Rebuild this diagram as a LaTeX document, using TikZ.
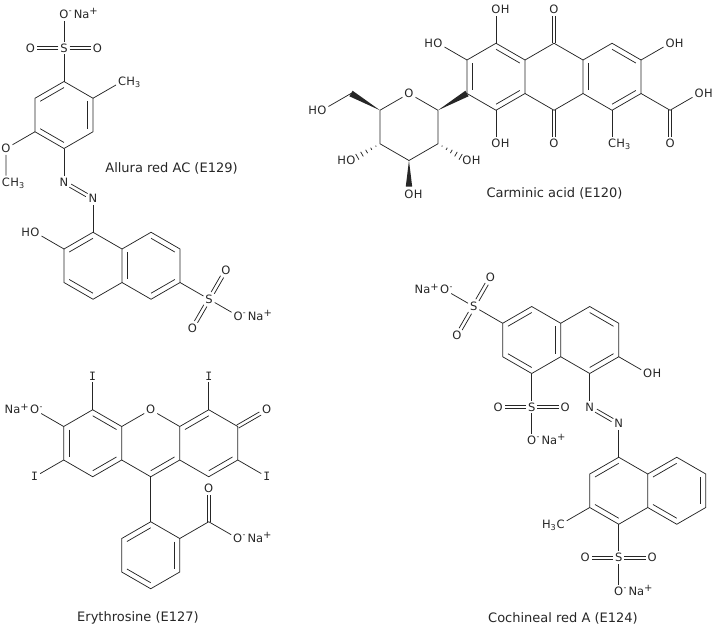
\documentclass[tikz,border=0pt]{standalone}
\usepackage{fontspec}
\setmainfont{DejaVu Sans}
\newfontfamily\monofam{DejaVu Sans Mono}
\usetikzlibrary{calc}
\newcommand\chplus{\raisebox{0.62ex}{\fontsize{10}{10}\selectfont +}}
\newcommand\chminus{\raisebox{0.75ex}{\fontsize{8}{8}\selectfont -}}
\newcommand\ringdbl[3]{\draw[bond] ($(#1)!0.18!(#3)$) -- ($(#2)!0.18!(#3)$);}
\newcommand\dblbond[2]{%
  \path (#1) -- (#2) coordinate[pos=0] (ds) coordinate[pos=1] (de);
  \draw[bond] ($(ds)!1.8pt!90:(de)$) -- ($(de)!1.8pt!-90:(ds)$);
  \draw[bond] ($(ds)!1.8pt!-90:(de)$) -- ($(de)!1.8pt!90:(ds)$);}
\newcommand\wedgebond[2]{\fill[black!85] (#1) -- ($(#2)!3.2pt!90:(#1)$) -- ($(#2)!3.2pt!-90:(#1)$) -- cycle;}
\newcommand\hashbond[2]{%
  \foreach \t in {0.14,0.30,0.46,0.62,0.78}{%
    \pgfmathsetlengthmacro\hw{4.2pt*\t}%
    \coordinate (hp) at ($(#1)!\t!(#2)$);
    \draw[hashline] ($(hp)!\hw!90:(#2)$) -- ($(hp)!\hw!-90:(#2)$);
  }}
\begin{document}
\begin{tikzpicture}[x=1pt,y=-1pt,
  bond/.style={line width=0.75pt, draw=black!85},
  hashline/.style={line width=0.75pt, draw=black!85},
  atom/.style={font=\fontsize{11.5}{13}\selectfont, inner sep=1.8pt, text=black!85},
  atomt/.style={font=\fontsize{11.5}{13}\selectfont, inner sep=0pt, text=black!85},
  captext/.style={font=\fontsize{13}{15}\selectfont, inner sep=0pt, text=black!85}]
\useasboundingbox (0,0) rectangle (715,632);

% ================= Allura red AC =================
\coordinate (a1) at (64,115);
\coordinate (a1t) at (64,81.5);
\coordinate (a1ur) at (93.01,98.25);
\coordinate (a1lr) at (93.01,131.75);
\coordinate (a1b) at (64,148.5);
\coordinate (a1ll) at (34.99,131.75);
\coordinate (a1ul) at (34.99,98.25);
\node[atom] (aS1) at (64,48) {S};
\node[atom] (aO1) at (30.5,48) {O};
\node[atom] (aO2) at (97.5,48) {O};
\node[atom] (aO3) at (64,14.5) {O};
\node[atomt, anchor=base west] (aNa1) at ([xshift=-1.8pt]aO3.base east) {\chminus\kern2pt Na\chplus};
\node[atom] (aC1) at (122.02,81.5) {C};
\node[atomt, anchor=base west] (aH1) at ([xshift=-1.8pt]aC1.base east) {H\textsubscript{3}};
\node[atom] (aO4) at (5.98,148.5) {O};
\node[atom] (aC2) at (5.98,182) {C};
\node[atomt, anchor=base west] (aH2) at ([xshift=-1.8pt]aC2.base east) {H\textsubscript{3}};
\node[atom] (aN1) at (64,182) {N};
\node[atom] (aN2) at (93.01,198.75) {N};
\coordinate (n1) at (93.01,265.75);
\coordinate (n1t) at (93.01,232.25);
\coordinate (n1ur) at (122.02,249);
\coordinate (n1lr) at (122.02,282.5);
\coordinate (n1b) at (93.01,299.25);
\coordinate (n1ll) at (64,282.5);
\coordinate (n1ul) at (64,249);
\coordinate (n2) at (151.03,265.75);
\coordinate (n2t) at (151.03,232.25);
\coordinate (n2ur) at (180.04,249);
\coordinate (n2lr) at (180.04,282.5);
\coordinate (n2b) at (151.03,299.25);
\node[atom] (aO5) at (34.99,232.25) {O};
\node[atomt, anchor=base east] (aH3) at ([xshift=1.8pt]aO5.base west) {H};
\node[atom] (aS2) at (209.05,299.25) {S};
\node[atom] (aO6) at (225.8,270.24) {O};
\node[atom] (aO7) at (192.3,328.26) {O};
\node[atom] (aO8) at (238.06,316) {O};
\node[atomt, anchor=base west] (aNa2) at ([xshift=-1.8pt]aO8.base east) {\chminus\kern2pt Na\chplus};
\node[captext] (capA) at (171.5,168) {Allura red AC (E129)};

% ================= Carminic acid =================
\coordinate (r1) at (496,76.75);
\coordinate (r1t) at (496,43.25);
\coordinate (r1ur) at (525.01,60);
\coordinate (r1lr) at (525.01,93.5);
\coordinate (r1b) at (496,110.25);
\coordinate (r1ll) at (466.99,93.5);
\coordinate (r1ul) at (466.99,60);
\coordinate (r2t) at (554.02,43.25);
\coordinate (r2b) at (554.02,110.25);
\coordinate (r3) at (612.04,76.75);
\coordinate (r3t) at (612.04,43.25);
\coordinate (r3ur) at (641.05,60);
\coordinate (r3lr) at (641.05,93.5);
\coordinate (r3b) at (612.04,110.25);
\coordinate (r3ll) at (583.03,93.5);
\coordinate (r3ul) at (583.03,60);
\node[atom] (bO1) at (496,9.75) {O};
\node[atomt, anchor=base west] (bH1) at ([xshift=-1.8pt]bO1.base east) {H};
\node[atom] (bO2) at (496,143.75) {O};
\node[atomt, anchor=base west] (bH2) at ([xshift=-1.8pt]bO2.base east) {H};
\node[atom] (bO3) at (554.02,9.75) {O};
\node[atom] (bO4) at (554.02,143.75) {O};
\node[atom] (bO5) at (437.98,43.25) {O};
\node[atomt, anchor=base east] (bH5) at ([xshift=1.8pt]bO5.base west) {H};
\node[atom] (bO6) at (670.06,43.25) {O};
\node[atomt, anchor=base west] (bH6) at ([xshift=-1.8pt]bO6.base east) {H};
\coordinate (bC1) at (670.06,110.25);
\node[atom] (bO7) at (699.07,93.5) {O};
\node[atomt, anchor=base west] (bH7) at ([xshift=-1.8pt]bO7.base east) {H};
\node[atom] (bO8) at (670.06,143.75) {O};
\node[atom] (bC2) at (612.04,143.75) {C};
\node[atomt, anchor=base west] (bH8) at ([xshift=-1.8pt]bC2.base east) {H\textsubscript{3}};
% glucose
\node[atom] (gO) at (408.97,93.5) {O};
\coordinate (g1) at (437.98,110.25);
\coordinate (g2) at (437.98,143.75);
\coordinate (g3) at (408.97,160.5);
\coordinate (g4) at (379.96,143.75);
\coordinate (g5) at (379.96,110.25);
\coordinate (g6) at (350.95,93.5);
\node[atom] (gO6) at (321.94,110.25) {O};
\node[atomt, anchor=base east] (gH6) at ([xshift=1.8pt]gO6.base west) {H};
\node[atom] (gO4) at (350.95,160.5) {O};
\node[atomt, anchor=base east] (gH4) at ([xshift=1.8pt]gO4.base west) {H};
\node[atom] (gO2) at (467,160.5) {O};
\node[atomt, anchor=base west] (gH2) at ([xshift=-1.8pt]gO2.base east) {H};
\node[atom] (gO3) at (408.97,194) {O};
\node[atomt, anchor=base west] (gH3) at ([xshift=-1.8pt]gO3.base east) {H};
\coordinate (g3w) at (408.97,186.5);
\node[captext] (capB) at (554.5,193) {Carminic acid (E120)};

% ================= Erythrosine =================
\coordinate (e1) at (92.7,443.25);
\coordinate (e1t) at (92.7,409.75);
\coordinate (e1ur) at (121.71,426.5);
\coordinate (e1lr) at (121.71,460);
\coordinate (e1b) at (92.7,476.75);
\coordinate (e1ll) at (63.69,460);
\coordinate (e1ul) at (63.69,426.5);
\coordinate (e2) at (150.72,443.25);
\node[atom] (eO) at (150.72,409.75) {O};
\coordinate (e2b) at (150.72,476.75);
\coordinate (e3) at (208.74,443.25);
\coordinate (e3t) at (208.74,409.75);
\coordinate (e3ur) at (237.75,426.5);
\coordinate (e3lr) at (237.75,460);
\coordinate (e3b) at (208.74,476.75);
\coordinate (e3ll) at (179.73,460);
\coordinate (e3ul) at (179.73,426.5);
\node[atom] (eI1) at (92.7,376.25) {\monofam I};
\node[atom] (eO1) at (34.68,409.75) {O};
\node[atomt, anchor=base west] (eM1) at ([xshift=-1.8pt]eO1.base east) {\chminus};
\node[atomt, anchor=base east] (eNa1) at ([xshift=0.8pt]eO1.base west) {Na\chplus};
\node[atom] (eI2) at (34.68,476.75) {\monofam I};
\node[atom] (eI3) at (208.74,376.25) {\monofam I};
\node[atom] (eO2) at (266.76,409.75) {O};
\node[atom] (eI4) at (266.76,476.75) {\monofam I};
\coordinate (p) at (150.72,555.25);
\coordinate (pt) at (150.72,521.75);
\coordinate (pur) at (179.73,538.5);
\coordinate (plr) at (179.73,572);
\coordinate (pb) at (150.72,588.75);
\coordinate (pll) at (121.71,572);
\coordinate (pul) at (121.71,538.5);
\coordinate (eC) at (208.74,521.75);
\node[atom] (eO3) at (208.74,488.25) {O};
\node[atom] (eO4) at (237.75,538.5) {O};
\node[atomt, anchor=base west] (eNa2) at ([xshift=-1.8pt]eO4.base east) {\chminus\kern2pt Na\chplus};
\node[captext] (capC) at (138,618) {Erythrosine (E127)};

% ================= Cochineal red A =================
\coordinate (c1) at (531.7,340);
\coordinate (c1t) at (531.7,306.5);
\coordinate (c1ur) at (560.71,323.25);
\coordinate (c1lr) at (560.71,356.75);
\coordinate (c1b) at (531.7,373.5);
\coordinate (c1ll) at (502.69,356.75);
\coordinate (c1ul) at (502.69,323.25);
\coordinate (c2) at (589.72,340);
\coordinate (c2t) at (589.72,306.5);
\coordinate (c2ur) at (618.73,323.25);
\coordinate (c2lr) at (618.73,356.75);
\coordinate (c2b) at (589.72,373.5);
\node[atom] (dS1) at (473.68,306.5) {S};
\node[atom] (dO1) at (490.43,277.49) {O};
\node[atom] (dO2) at (456.93,335.51) {O};
\node[atom] (dO3) at (444.67,289.75) {O};
\node[atomt, anchor=base west] (dM3) at ([xshift=-1.8pt]dO3.base east) {\chminus};
\node[atomt, anchor=base east] (dNa3) at ([xshift=0.8pt]dO3.base west) {Na\chplus};
\node[atom] (dS2) at (531.7,407) {S};
\node[atom] (dO4) at (498.2,407) {O};
\node[atom] (dO5) at (565.2,407) {O};
\node[atom] (dO6) at (531.7,440.5) {O};
\node[atomt, anchor=base west] (dNa6) at ([xshift=-1.8pt]dO6.base east) {\chminus\kern2pt Na\chplus};
\node[atom] (dO7) at (647.74,373.5) {O};
\node[atomt, anchor=base west] (dH7) at ([xshift=-1.8pt]dO7.base east) {H};
\node[atom] (dN1) at (589.72,407) {N};
\node[atom] (dN2) at (618.73,423.75) {N};
\coordinate (d1) at (618.73,490.75);
\coordinate (d1t) at (618.73,457.25);
\coordinate (d1ur) at (647.74,474);
\coordinate (d1lr) at (647.74,507.5);
\coordinate (d1b) at (618.73,524.25);
\coordinate (d1ll) at (589.72,507.5);
\coordinate (d1ul) at (589.72,474);
\coordinate (d2) at (676.75,490.75);
\coordinate (d2t) at (676.75,457.25);
\coordinate (d2ur) at (705.76,474);
\coordinate (d2lr) at (705.76,507.5);
\coordinate (d2b) at (676.75,524.25);
\node[atom] (dC) at (560.71,524.25) {C};
\node[atomt, anchor=base east] (dH3) at ([xshift=1.8pt]dC.base west) {H\textsubscript{3}};
\node[atom] (dS3) at (618.73,557.75) {S};
\node[atom] (dO8) at (585.23,557.75) {O};
\node[atom] (dO9) at (652.23,557.75) {O};
\node[atom] (dO10) at (618.73,591.25) {O};
\node[atomt, anchor=base west] (dNa10) at ([xshift=-1.8pt]dO10.base east) {\chminus\kern2pt Na\chplus};
\node[captext] (capD) at (563,618) {Cochineal red A (E124)};

% ---------- exocyclic double bonds ----------
\dblbond{aS1}{aO1}
\dblbond{aS1}{aO2}
\dblbond{aN1}{aN2}
\dblbond{aS2}{aO6}
\dblbond{aS2}{aO7}
\dblbond{r2t}{bO3}
\dblbond{r2b}{bO4}
\dblbond{bC1}{bO8}
\dblbond{e3ur}{eO2}
\dblbond{eC}{eO3}
\dblbond{dS1}{dO1}
\dblbond{dS1}{dO2}
\dblbond{dS2}{dO4}
\dblbond{dS2}{dO5}
\dblbond{dN1}{dN2}
\dblbond{dS3}{dO8}
\dblbond{dS3}{dO9}

% ---------- Allura bonds ----------
\draw[bond] (aS1) -- (aO3);
\draw[bond] (aS1) -- (a1t);
\draw[bond] (a1t) -- (a1ur) -- (a1lr) -- (a1b) -- (a1ll) -- (a1ul) -- cycle;
\ringdbl{a1t}{a1ul}{a1}
\ringdbl{a1ur}{a1lr}{a1}
\ringdbl{a1b}{a1ll}{a1}
\draw[bond] (a1ur) -- (aC1);
\draw[bond] (a1ll) -- (aO4) -- (aC2);
\draw[bond] (a1b) -- (aN1);
\draw[bond] (aN2) -- (n1t);
\draw[bond] (n1t) -- (n1ur) -- (n1lr) -- (n1b) -- (n1ll) -- (n1ul) -- cycle;
\draw[bond] (n1ur) -- (n2t) -- (n2ur) -- (n2lr) -- (n2b) -- (n1lr);
\ringdbl{n1t}{n1ul}{n1}
\ringdbl{n1ll}{n1b}{n1}
\ringdbl{n1ur}{n1lr}{n2}
\ringdbl{n2t}{n2ur}{n2}
\ringdbl{n2lr}{n2b}{n2}
\draw[bond] (n1ul) -- (aO5);
\draw[bond] (n2lr) -- (aS2);
\draw[bond] (aS2) -- (aO8);

% ---------- Carminic bonds ----------
\draw[bond] (r1t) -- (r1ur) -- (r1lr) -- (r1b) -- (r1ll) -- (r1ul) -- cycle;
\draw[bond] (r1ur) -- (r2t) -- (r3ul);
\draw[bond] (r1lr) -- (r2b) -- (r3ll);
\draw[bond] (r3t) -- (r3ur) -- (r3lr) -- (r3b) -- (r3ll) -- (r3ul) -- cycle;
\ringdbl{r1t}{r1ur}{r1}
\ringdbl{r1lr}{r1b}{r1}
\ringdbl{r1ul}{r1ll}{r1}
\ringdbl{r3t}{r3ur}{r3}
\ringdbl{r3lr}{r3b}{r3}
\ringdbl{r3ul}{r3ll}{r3}
\draw[bond] (r1t) -- (bO1);
\draw[bond] (r1b) -- (bO2);
\draw[bond] (r1ul) -- (bO5);
\draw[bond] (r3ur) -- (bO6);
\draw[bond] (r3lr) -- (bC1) -- (bO7);
\draw[bond] (r3b) -- (bC2);
\draw[bond] (g1) -- (gO) -- (g5);
\draw[bond] (g1) -- (g2) -- (g3) -- (g4) -- (g5);
\wedgebond{g1}{r1ll}
\wedgebond{g5}{g6}
\wedgebond{g3}{g3w}
\draw[bond] (g6) -- (gO6);
\hashbond{g4}{gO4.center}
\hashbond{g2}{gO2.center}

% ---------- Erythrosine bonds ----------
\draw[bond] (e1t) -- (e1ur) -- (e1lr) -- (e1b) -- (e1ll) -- (e1ul) -- cycle;
\draw[bond] (e1ur) -- (eO) -- (e3ul);
\draw[bond] (e1lr) -- (e2b) -- (e3ll);
\draw[bond] (e3t) -- (e3ur) -- (e3lr) -- (e3b) -- (e3ll) -- (e3ul) -- cycle;
\ringdbl{e1t}{e1ur}{e1}
\ringdbl{e1ul}{e1ll}{e1}
\ringdbl{e1lr}{e1b}{e1}
\ringdbl{e2b}{e3ll}{e2}
\ringdbl{e3t}{e3ul}{e3}
\ringdbl{e3lr}{e3b}{e3}
\draw[bond] (e1t) -- (eI1);
\draw[bond] (e1ul) -- (eO1);
\draw[bond] (e1ll) -- (eI2);
\draw[bond] (e3t) -- (eI3);
\draw[bond] (e3lr) -- (eI4);
\draw[bond] (e2b) -- (pt);
\draw[bond] (pt) -- (pur) -- (plr) -- (pb) -- (pll) -- (pul) -- cycle;
\ringdbl{pt}{pul}{p}
\ringdbl{pur}{plr}{p}
\ringdbl{pll}{pb}{p}
\draw[bond] (pur) -- (eC) -- (eO4);

% ---------- Cochineal bonds ----------
\draw[bond] (c1t) -- (c1ur) -- (c1lr) -- (c1b) -- (c1ll) -- (c1ul) -- cycle;
\draw[bond] (c1ur) -- (c2t) -- (c2ur) -- (c2lr) -- (c2b) -- (c1lr);
\ringdbl{c1ul}{c1t}{c1}
\ringdbl{c1ll}{c1b}{c1}
\ringdbl{c1ur}{c1lr}{c1}
\ringdbl{c2t}{c2ur}{c2}
\ringdbl{c2lr}{c2b}{c2}
\draw[bond] (c1ul) -- (dS1) -- (dO3);
\draw[bond] (c1b) -- (dS2) -- (dO6);
\draw[bond] (c2lr) -- (dO7);
\draw[bond] (c2b) -- (dN1);
\draw[bond] (dN2) -- (d1t);
\draw[bond] (d1t) -- (d1ur) -- (d1lr) -- (d1b) -- (d1ll) -- (d1ul) -- cycle;
\draw[bond] (d1ur) -- (d2t) -- (d2ur) -- (d2lr) -- (d2b) -- (d1lr);
\ringdbl{d1t}{d1ul}{d1}
\ringdbl{d1ll}{d1b}{d1}
\ringdbl{d1ur}{d2t}{d2}
\ringdbl{d2ur}{d2lr}{d2}
\ringdbl{d2b}{d1lr}{d2}
\draw[bond] (d1ll) -- (dC);
\draw[bond] (d1b) -- (dS3) -- (dO10);
\end{tikzpicture}
\end{document}
